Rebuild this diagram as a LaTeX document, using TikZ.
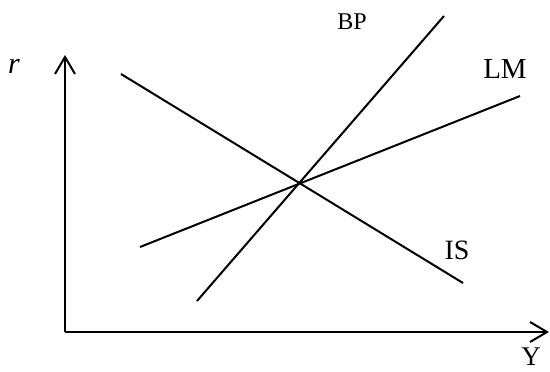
\documentclass[tikz,border=0pt]{standalone}
\usepackage{fontspec}
\setmainfont{Liberation Serif}
\usetikzlibrary{arrows.meta}
\begin{document}
\begin{tikzpicture}[x=1pt,y=-1pt,
  axis/.style={line width=2.2pt,-{Straight Barb[length=17pt,width=20pt,line width=2pt]}},
  curve/.style={line width=2pt},
  lbl/.style={inner sep=0pt,font=\fontsize{28}{28}\selectfont}]
\useasboundingbox (0,0) rectangle (550,372);
\coordinate (O) at (65,332);
\coordinate (ytop) at (65,55);
\coordinate (xend) at (549,332);
\draw[axis] (O) -- (ytop);
\draw[axis] (O) -- (xend);
\coordinate (is1) at (121,74);
\coordinate (is2) at (463,283);
\coordinate (lm1) at (140,247);
\coordinate (lm2) at (520,96);
\coordinate (bp1) at (197,301);
\coordinate (bp2) at (444,16);
\draw[curve] (is1) -- (is2);
\draw[curve] (lm1) -- (lm2);
\draw[curve] (bp1) -- (bp2);
\node[lbl,font=\fontsize{30}{30}\selectfont\itshape] (r) at (14,66) {r};
\node[lbl,font=\fontsize{27}{27}\selectfont] (Y) at (531,357) {Y};
\node[lbl,font=\fontsize{24}{24}\selectfont] (BP) at (352,22) {BP};
\node[lbl,font=\fontsize{29}{29}\selectfont] (LM) at (505,69) {LM};
\node[lbl] (IS) at (457,250) {IS};
\end{tikzpicture}
\end{document}
